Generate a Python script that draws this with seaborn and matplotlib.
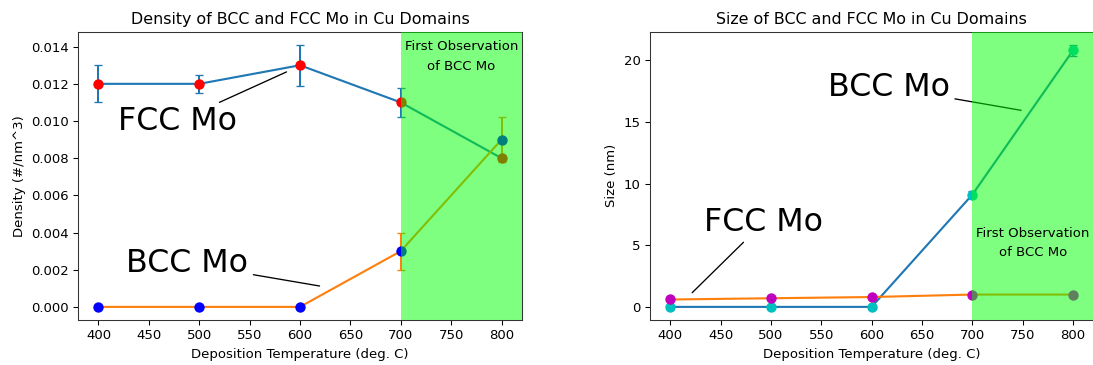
import matplotlib
matplotlib.use("Agg")
import matplotlib.pyplot as plt
import seaborn as sns

# Deposition temperatures (deg. C)
temps = [400, 500, 600, 700, 800]

# Number density of precipitates (#/nm^3)
fcc_density = [0.012, 0.012, 0.013, 0.011, 0.008]
fcc_density_err = [0.001, 0.0005, 0.0011, 0.0008, 0.0]
bcc_density = [0.0, 0.0, 0.0, 0.003, 0.009]
bcc_density_err = [0.0, 0.0, 0.0, 0.001, 0.0012]

# Precipitate size (nm)
bcc_size = [0.0, 0.0, 0.0, 9.1, 20.8]
bcc_size_err = [0.0, 0.0, 0.0, 0.3, 0.45]
fcc_size = [0.6, 0.7, 0.8, 1.0, 1.0]
fcc_size_err = [0.0, 0.0, 0.0, 0.0, 0.0]

obs_start, obs_end = 700, 820

DPI = 95
fig = plt.figure(figsize=(1093 / DPI, 365 / DPI), dpi=DPI)
W, H = 1093, 365
ax1 = fig.add_axes([78.3 / W, 1 - 320 / H, (521.7 - 78.3) / W, (320 - 31.7) / H])
ax2 = fig.add_axes([650.0 / W, 1 - 320 / H, (1093.2 - 650.0) / W, (320 - 31.7) / H])


def series(ax, y, yerr, line_color, marker_color):
    ax.errorbar(temps, y, yerr=yerr, fmt="none", ecolor=line_color,
                elinewidth=1.5, capsize=3, zorder=2)
    sns.lineplot(x=temps, y=y, ax=ax, color=line_color, linewidth=1.6, zorder=2)
    sns.scatterplot(x=temps, y=y, ax=ax, color=marker_color, s=62,
                    linewidth=0, zorder=3)


# --- Density panel ---
series(ax1, fcc_density, fcc_density_err, "C0", "red")
series(ax1, bcc_density, bcc_density_err, "C1", "blue")
ax1.set_xlim(380, 820)
ax1.axvspan(obs_start, obs_end, color="lime", alpha=0.5, lw=0, zorder=4)
ax1.text(760, 0.01346, "First Observation\nof BCC Mo", ha="center", va="center",
         fontsize=10, linespacing=1.65, zorder=5)
ax1.annotate("FCC Mo", xy=(589, 0.0127), xytext=(478, 0.00997), fontsize=24,
             ha="center", va="center",
             arrowprops=dict(arrowstyle="-", color="black", lw=1.0))
ax1.annotate("BCC Mo", xy=(622, 0.0011), xytext=(488, 0.00234), fontsize=24,
             ha="center", va="center",
             arrowprops=dict(arrowstyle="-", color="black", lw=1.0))
ax1.set_title("Density of BCC and FCC Mo in Cu Domains", fontsize=12)
ax1.set_xlabel("Deposition Temperature (deg. C)", fontsize=10)
ax1.set_ylabel("Density (#/nm^3)", fontsize=10)
ax1.set_xticks([400, 450, 500, 550, 600, 650, 700, 750, 800])

# --- Size panel ---
series(ax2, bcc_size, bcc_size_err, "C0", "c")
series(ax2, fcc_size, fcc_size_err, "C1", "m")
ax2.set_xlim(380, 820)
ax2.axvspan(obs_start, obs_end, color="lime", alpha=0.5, lw=0, zorder=4)
ax2.text(760, 5.18, "First Observation\nof BCC Mo", ha="center", va="center",
         fontsize=10, linespacing=1.65, zorder=5)
ax2.annotate("BCC Mo", xy=(751, 15.9), xytext=(617, 17.8), fontsize=24,
             ha="center", va="center",
             arrowprops=dict(arrowstyle="-", color="black", lw=1.0))
ax2.annotate("FCC Mo", xy=(420, 1.0), xytext=(493, 6.86), fontsize=24,
             ha="center", va="center",
             arrowprops=dict(arrowstyle="-", color="black", lw=1.0))
ax2.set_title("Size of BCC and FCC Mo in Cu Domains", fontsize=12)
ax2.set_xlabel("Deposition Temperature (deg. C)", fontsize=10)
ax2.set_ylabel("Size (nm)", fontsize=10)
ax2.set_xticks([400, 450, 500, 550, 600, 650, 700, 750, 800])
ax2.set_yticks([0, 5, 10, 15, 20])

for ax in (ax1, ax2):
    ax.tick_params(labelsize=10)
    for sp in ax.spines.values():
        sp.set_color("#333333")

fig.savefig("out.png", dpi=DPI)
